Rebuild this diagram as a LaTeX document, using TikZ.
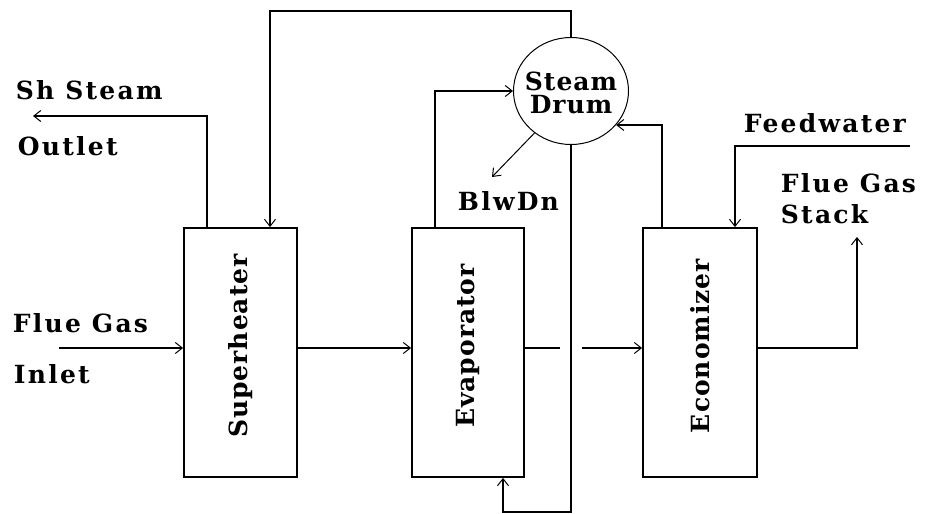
\documentclass[tikz,border=0pt]{standalone}
\usepackage{fontspec}
\setmainfont{DejaVu Serif}
\newfontfamily\lblfont[LetterSpace=9]{DejaVu Serif}
\newfontfamily\unitfont[LetterSpace=4]{DejaVu Serif}
\usepackage{tikz}
\usetikzlibrary{shapes,arrows,arrows.meta,positioning,calc}

\begin{document}
\begin{tikzpicture}[x=1pt,y=-1pt,>={Straight Barb[length=7pt,width=11pt,line width=1pt]},line width=1.8pt,
  every node/.style={font=\lblfont\fontsize{25}{23}\bfseries\selectfont,inner sep=0pt},
  unit/.style={draw,minimum height=249pt},
  unitlbl/.style={rotate=90,font=\unitfont\fontsize{25}{23}\bfseries\selectfont},
  lbl/.style={anchor=base west}]
\useasboundingbox (0,0) rectangle (927,514);
% heat exchanger sections
\node[unit,minimum width=113pt](sh) at (240.5,352.5){};
\node[unit,minimum width=112pt](ev) at (468,352.5){};
\node[unit,minimum width=114pt](ec) at (700,352.5){};
\node[unitlbl](shlbl) at ([yshift=6.5pt]sh.center){Superheater};
\node[unitlbl](evlbl) at ([yshift=6.5pt]ev.center){Evaporator};
\node[unitlbl](eclbl) at ([yshift=6.5pt]ec.center){Economizer};
\node[draw,ellipse,line width=1pt,minimum width=115pt,minimum height=107pt](drum) at (571,91){};
\node[align=center,font=\unitfont\fontsize{25}{23}\bfseries\selectfont](drumlbl) at ([yshift=-2pt]drum.center){Steam\\Drum};
% labels
\node[lbl] at (15,99){Sh Steam};
\node[lbl] at (17,155){Outlet};
\node[lbl] at (12,332){Flue Gas};
\node[lbl] at (13,383){Inlet};
\node[lbl] at (743,132){Feedwater};
\node[lbl] at (780,192){Flue Gas};
\node[lbl] at (780,223){Stack};
\node[lbl] at (457,210){BlwDn};
% free ends
\coordinate (inlet) at (59,348);
\coordinate (gapL) at (560,348);
\coordinate (gapR) at (582,348);
\coordinate (stack) at (857,237);
\coordinate (topL) at (270,11);
\coordinate (outlet) at (33,116);
\coordinate (shout) at (207,116);
\coordinate (riser) at (435,91);
\coordinate (dcB) at (503,512);
\coordinate (ecup) at (662,125);
\coordinate (feed) at (910,146);
\coordinate (blw) at (492,177);
% flue gas path
\draw[->](inlet)--(inlet -| sh.west);
\draw[->](sh.east |- inlet)--(ev.west |- inlet);
\draw(ev.east |- inlet)--(gapL);
\draw[->](gapR)--(ec.west |- inlet);
\draw[->](ec.east |- inlet)-|(stack);
% water and steam path
\draw[->](drum.north)|-(topL)--(topL |- sh.north);
\draw[->](shout |- sh.north)--(shout)--(outlet);
\draw[->](riser |- ev.north)--(riser)--(drum.west);
\draw[->](drum.south)|-(dcB)--(dcB |- ev.south);
\draw[->](ecup |- ec.north)|-(drum.-37);
\draw[->](feed)-|([xshift=35pt]ec.north);
\draw[->,line width=1pt](drum.-131)--(blw);
\end{tikzpicture}
\end{document}
